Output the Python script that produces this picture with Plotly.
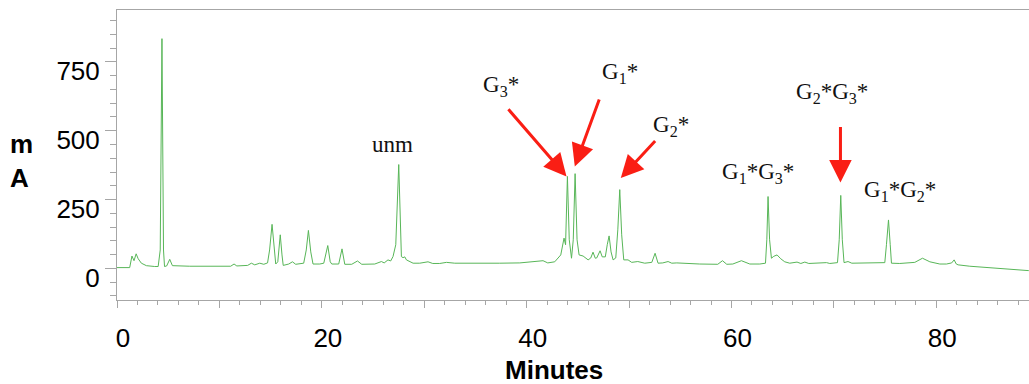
import plotly.graph_objects as go

# ---- data ----
time_min = [0.0, 1.24, 1.46, 1.66, 1.87, 2.07, 2.38, 2.87, 3.68, 4.02, 4.22, 4.39, 4.54, 4.64, 4.85,
            5.15, 5.41, 7.1, 11.1, 11.43, 11.7, 12.76, 13.12, 13.45, 13.94, 14.33, 14.7, 14.9, 15.14,
            15.35, 15.5, 15.7, 15.94, 16.11, 16.23, 16.77, 17.13, 17.45, 18.23, 18.48, 18.69, 18.92,
            19.14, 19.8, 20.19, 20.58, 20.82, 20.97, 21.65, 21.97, 22.24, 22.92, 23.48, 23.9, 25.17,
            25.82, 26.09, 26.46, 26.72, 26.95, 27.22, 27.51, 27.68, 27.77, 27.93, 28.1, 28.26, 28.58,
            28.91, 29.56, 30.37, 30.83, 31.51, 32.17, 32.98, 37.37, 39.33, 41.6, 42.06, 42.74, 43.07,
            43.33, 43.65, 43.8, 43.98, 44.16, 44.38, 44.55, 44.73, 44.92, 45.12, 45.51, 46.0, 46.26,
            46.48, 46.7, 46.84, 47.17, 47.38, 47.68, 47.87, 48.05, 48.24, 48.44, 48.7, 48.9, 49.09,
            49.28, 49.48, 49.9, 50.26, 50.85, 51.53, 52.22, 52.54, 52.83, 53.29, 53.81, 54.17, 54.66,
            56.9, 58.66, 59.12, 59.54, 60.13, 60.97, 61.79, 62.76, 63.32, 63.45, 63.57, 63.72, 63.9,
            64.13, 64.45, 64.81, 65.2, 65.69, 66.4, 66.77, 67.16, 67.55, 69.28, 69.6, 70.35, 70.52,
            70.67, 70.82, 70.99, 71.38, 71.75, 72.53, 73.8, 74.97, 75.13, 75.33, 75.5, 75.62, 76.43,
            77.9, 78.65, 79.37, 80.34, 80.99, 81.5, 81.74, 81.95, 82.13, 83.27, 84.57, 86.2, 89.03]
signal_mA = [3, 3, 45, 28, 53, 35, 19, 10, 7, 7, 67, 834, 67, 7, 9,
             33, 10, 8, 8, 16, 9, 11, 19, 13, 19, 15, 20, 67, 160,
             67, 16, 24, 122, 49, 11, 16, 24, 15, 19, 67, 138, 60,
             16, 16, 19, 83, 24, 16, 16, 71, 15, 15, 27, 15, 16,
             25, 20, 31, 27, 43, 86, 377, 86, 43, 39, 42, 31, 24,
             19, 19, 24, 18, 18, 22, 19, 19, 20, 28, 20, 24, 37,
             49, 110, 86, 334, 104, 37, 104, 344, 104, 49, 45, 31, 38,
             59, 37, 38, 64, 42, 42, 86, 118, 60, 31, 38, 140, 286,
             122, 31, 31, 22, 25, 19, 22, 55, 19, 20, 25, 19, 20,
             16, 15, 28, 15, 16, 28, 16, 16, 19, 104, 261, 104, 37,
             44, 49, 35, 24, 19, 23, 18, 23, 18, 21, 18, 21, 104,
             265, 104, 21, 25, 19, 19, 21, 21, 86, 176, 86, 19, 18,
             22, 37, 24, 16, 16, 20, 31, 16, 13, 8, 4, 1, -8]

x_tick_vals = [0, 10, 20, 30, 40, 50, 60, 70, 80]
x_tick_text = ["0", "", "20", "", "40", "", "60", "", "80"]
y_tick_vals = [0, 250, 500, 750]
y_tick_text = ["0", "250", "500", "750"]

peak_labels = ["unm", "G<sub>3</sub>*", "G<sub>1</sub>*", "G<sub>2</sub>*",
               "G<sub>1</sub>*G<sub>3</sub>*", "G<sub>2</sub>*G<sub>3</sub>*", "G<sub>1</sub>*G<sub>2</sub>*"]
label_t = [26.92, 37.54, 49.09, 54.14, 62.57, 69.77, 76.43]
label_v = [449, 662, 711, 516, 348, 638, 280]

# arrows: (tail t, tail v) -> (tip t, tip v)
arrow_tail_t = [38.09, 47.14, 52.68, 70.64]
arrow_tail_v = [583, 619, 468, 519]
arrow_tip_t = [43.89, 44.70, 49.19, 70.64]
arrow_tip_v = [334, 370, 328, 312]

AXIS_GREY = "#a6a6a6"
TRACE_GREEN = "rgb(88,182,88)"
ARROW_RED = "rgb(250,30,20)"

fig = go.Figure()
fig.add_trace(go.Scatter(x=time_min, y=signal_mA, mode="lines",
                         line=dict(color=TRACE_GREEN, width=1), showlegend=False,
                         hoverinfo="skip"))

for txt, t, v in zip(peak_labels, label_t, label_v):
    fig.add_annotation(x=t, y=v, xref="x", yref="y", text=txt, showarrow=False,
                       font=dict(family="Liberation Serif", size=23, color="#111"),
                       xanchor="center", yanchor="middle")

for tt, tv, ht, hv in zip(arrow_tail_t, arrow_tail_v, arrow_tip_t, arrow_tip_v):
    fig.add_annotation(x=ht, y=hv, ax=tt, ay=tv, xref="x", yref="y", axref="x", ayref="y",
                       text="", showarrow=True, arrowhead=2, arrowsize=1.5, arrowwidth=3,
                       arrowcolor=ARROW_RED, standoff=0, startstandoff=0)

# y-axis title (horizontal, stacked)
fig.add_annotation(x=-0.105, y=0.479, xref="paper", yref="paper", text="<b>m<br>A</b>",
                   showarrow=False, align="left", xanchor="center", yanchor="middle",
                   font=dict(family="Liberation Sans", size=26, color="black"))
# x-axis title
fig.add_annotation(x=42.7, y=-0.241, xref="x", yref="paper", text="<b>Minutes</b>",
                   showarrow=False, xanchor="center", yanchor="middle",
                   font=dict(family="Liberation Sans", size=26, color="black"))

fig.update_layout(
    width=1029, height=384,
    margin=dict(l=117, r=0, t=10, b=84),
    paper_bgcolor="white", plot_bgcolor="white",
    font=dict(family="Liberation Sans", size=26, color="black"),
    xaxis=dict(range=[0, 89.05], tickmode="array", tickvals=x_tick_vals, ticktext=x_tick_text,
               ticks="outside", ticklen=7, tickwidth=1, tickcolor=AXIS_GREY,
               showline=True, linecolor=AXIS_GREY, linewidth=1, mirror=True,
               showgrid=False, zeroline=False,
               minor=dict(dtick=2, ticks="outside", ticklen=4, tickcolor=AXIS_GREY, showgrid=False),
               ticklabelstandoff=8, ticklabelshift=6,
               tickfont=dict(family="Liberation Sans", size=26, color="black")),
    yaxis=dict(range=[-114.6, 938], tickmode="array", tickvals=y_tick_vals, ticktext=y_tick_text,
               ticks="outside", ticklen=11, tickwidth=1, tickcolor=AXIS_GREY,
               showline=True, linecolor=AXIS_GREY, linewidth=1, mirror=False,
               showgrid=False, zeroline=False,
               minor=dict(dtick=50, ticks="outside", ticklen=6, tickcolor=AXIS_GREY, showgrid=False),
               ticklabelstandoff=0, ticklabelshift=9,
               tickfont=dict(family="Liberation Sans", size=26, color="black")),
)

fig.write_html("out.html")
